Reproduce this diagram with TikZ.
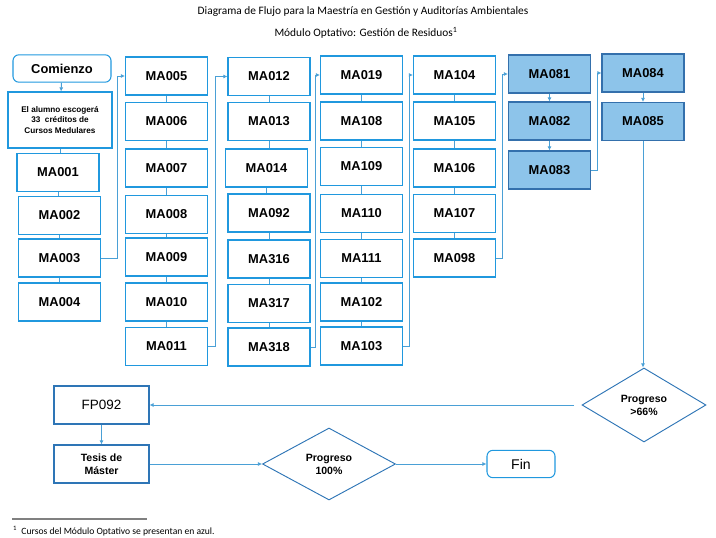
\documentclass[tikz,border=0pt]{standalone}
\usepackage{fontspec}
\setmainfont{Liberation Sans}
\newfontfamily\notefont{Carlito}
\usetikzlibrary{shapes.geometric,arrows.meta}
\definecolor{boxblue}{RGB}{32,152,222}
\definecolor{linkblue}{RGB}{74,160,214}
\definecolor{optfill}{RGB}{141,196,234}
\definecolor{optdraw}{RGB}{52,112,172}
\definecolor{deepblue}{RGB}{46,117,182}
\tikzset{
  course/.style = {draw=boxblue, line width=.9pt, minimum width=2.46cm,
    minimum height=1.14cm, inner sep=1pt, font=\fontsize{11}{13}\selectfont\bfseries},
  optcourse/.style = {course, draw=optdraw, fill=optfill},
  endpoint/.style = {course, rounded corners=5pt, minimum height=.82cm},
  lowbox/.style = {course, draw=deepblue, minimum width=2.85cm},
  check/.style = {diamond, draw=deepblue, line width=.8pt, inner sep=0pt,
    align=center, font=\fontsize{9}{11}\selectfont\bfseries},
  link/.style = {draw=linkblue, line width=.8pt},
  arr/.style = {link, -{Latex[length=3.5pt,width=3.5pt]}}
}

\begin{document}
\begin{tikzpicture}[x=.03cm, y=-.03cm]
  \useasboundingbox (0,0) rectangle (716,538);
  \node[font=\notefont\fontsize{9.7}{11}\selectfont] (title) at (363,12)
    {Diagrama de Flujo para la Maestría en Gestión y Auditorías Ambientales};
  \node[font=\notefont\fontsize{9.7}{11}\selectfont] (subtitle) at (366,33)
    {Módulo Optativo: Gestión de Residuos\textsuperscript{1}};

  % primer bloque
  \node[endpoint, minimum width=2.94cm] (start) at (62,68.5) {Comienzo};
  \node[course, minimum width=3.12cm, minimum height=1.68cm, align=center,
    font=\fontsize{7}{9.2}\selectfont\bfseries] (choose) at (60,120)
    {El alumno escogerá\\33 \ créditos de\\Cursos Medulares};
  \node[course] (ma001) at (58,172.5) {MA001};
  \node[course] (ma002) at (59.5,215.5) {MA002};
  \node[course] (ma003) at (59.5,258) {MA003};
  \node[course] (ma004) at (59.5,302) {MA004};

  \node[course] (ma005) at (166.5,76) {MA005};
  \node[course] (ma006) at (166.5,121.5) {MA006};
  \node[course] (ma007) at (166.5,168) {MA007};
  \node[course] (ma008) at (166.5,214.5) {MA008};
  \node[course] (ma009) at (166.5,257) {MA009};
  \node[course] (ma010) at (166.5,302) {MA010};
  \node[course] (ma011) at (166.5,346.5) {MA011};

  \node[course] (ma012) at (269,76.5) {MA012};
  \node[course] (ma013) at (269,121.5) {MA013};
  \node[course] (ma014) at (266.5,168) {MA014};
  \node[course] (ma092) at (269,213) {MA092};
  \node[course] (ma316) at (269,259) {MA316};
  \node[course] (ma317) at (269,303.5) {MA317};
  \node[course] (ma318) at (269,347) {MA318};

  \node[course] (ma019) at (361.5,75) {MA019};
  \node[course] (ma108) at (361.5,121) {MA108};
  \node[course] (ma109) at (361.5,166.5) {MA109};
  \node[course] (ma110) at (361.5,213.5) {MA110};
  \node[course] (ma111) at (361.5,258.5) {MA111};
  \node[course] (ma102) at (361.5,302) {MA102};
  \node[course] (ma103) at (361.5,346) {MA103};

  \node[course] (ma104) at (454.5,75) {MA104};
  \node[course] (ma105) at (454.5,121) {MA105};
  \node[course] (ma106) at (454.5,168) {MA106};
  \node[course] (ma107) at (454.5,213.5) {MA107};
  \node[course] (ma098) at (454.5,258) {MA098};

  % modulo optativo
  \node[optcourse] (ma081) at (549.5,74) {MA081};
  \node[optcourse] (ma082) at (549.5,121) {MA082};
  \node[optcourse] (ma083) at (549.5,170) {MA083};
  \node[optcourse] (ma084) at (643,73) {MA084};
  \node[optcourse] (ma085) at (643,121.5) {MA085};

  \node[check, minimum width=3.72cm, minimum height=2.22cm] (prog1) at (644,405)
    {Progreso\\>66\%};
  \node[lowbox, font=\fontsize{11.5}{13}\selectfont] (fp092) at (101.5,405) {FP092};
  \node[lowbox, align=center, font=\fontsize{9}{11}\selectfont\bfseries] (thesis)
    at (101.5,464) {Tesis de\\Máster};
  \node[check, minimum width=3.99cm, minimum height=2.16cm] (prog2) at (329,464)
    {Progreso\\100\%};
  \node[endpoint, minimum width=2.04cm, font=\fontsize{12}{13}\selectfont] (fin)
    at (521,464) {Fin};

  \draw[arr] (start) -- (choose);
  \foreach \a/\b in {choose/ma001, ma001/ma002, ma002/ma003, ma003/ma004,
      ma005/ma006, ma006/ma007, ma007/ma008, ma008/ma009, ma009/ma010, ma010/ma011,
      ma012/ma013, ma013/ma014, ma014/ma092, ma092/ma316, ma316/ma317, ma317/ma318,
      ma019/ma108, ma108/ma109, ma109/ma110, ma110/ma111, ma111/ma102, ma102/ma103,
      ma104/ma105, ma105/ma106, ma106/ma107, ma107/ma098}
    \draw[link] (\a.south) -- (\a.south |- \b.north);
  \draw[arr] (ma081) -- (ma082);
  \draw[arr] (ma082) -- (ma083);
  \draw[arr] (ma084) -- (ma085);

  \draw[arr] (ma003.east) -- ++(16,0) |- (ma005);
  \draw[arr] (ma011.east) -- ++(7,0) |- (ma012);
  \draw[arr] (ma318.east) -- ++(5,0) |- (ma019);
  \draw[arr] (ma103.east) -- ++(6,0) |- (ma104);
  \draw[arr] (ma098.east) -- ++(6,0) |- (ma081);
  \draw[arr] (ma083.east) -- ++(6,0) |- (ma084);

  \draw[arr] (ma085.south) -- (ma085.south |- prog1.north);
  \draw[arr, shorten <=8\pgflinewidth] (prog1) -- (fp092);
  \draw[arr] (fp092) -- (thesis);
  \draw[arr] (thesis) -- (prog2);
  \draw[arr] (prog2) -- (fin);

  % nota al pie
  \draw[gray, line width=1.1pt] (12,519) coordinate (rulestart) -- (147,519);
  \node[anchor=west, font=\notefont\fontsize{8.2}{9}\selectfont] (note) at (9,531)
    {\textsuperscript{1}\ \ Cursos del Módulo Optativo se presentan en azul.};
\end{tikzpicture}
\end{document}
